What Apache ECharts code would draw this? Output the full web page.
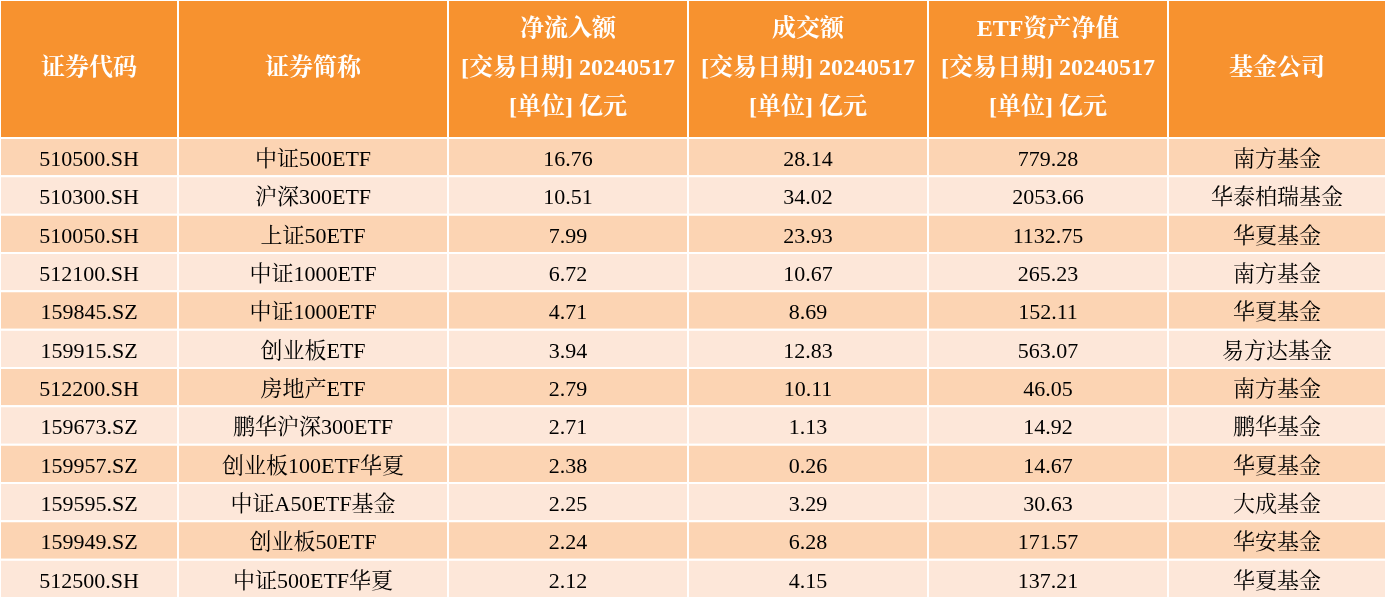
<!DOCTYPE html><html><head><meta charset="utf-8">
<script src="https://cdn.jsdelivr.net/npm/echarts@6/dist/echarts.min.js"></script>
<style>html,body{margin:0;padding:0;background:#fff}#c{width:1386px;height:598px}</style></head><body><div id="c"></div>
<script>
const headers=["证券代码","证券简称","净流入额\n[交易日期] 20240517\n[单位] 亿元","成交额\n[交易日期] 20240517\n[单位] 亿元","ETF资产净值\n[交易日期] 20240517\n[单位] 亿元","基金公司"];
const codes=["510500.SH","510300.SH","510050.SH","512100.SH","159845.SZ","159915.SZ","512200.SH","159673.SZ","159957.SZ","159595.SZ","159949.SZ","512500.SH"];
const names=["中证500ETF","沪深300ETF","上证50ETF","中证1000ETF","中证1000ETF","创业板ETF","房地产ETF","鹏华沪深300ETF","创业板100ETF华夏","中证A50ETF基金","创业板50ETF","中证500ETF华夏"];
const netInflow=[16.76,10.51,7.99,6.72,4.71,3.94,2.79,2.71,2.38,2.25,2.24,2.12];
const turnover=[28.14,34.02,23.93,10.67,8.69,12.83,10.11,1.13,0.26,3.29,6.28,4.15];
const nav=[779.28,2053.66,1132.75,265.23,152.11,563.07,46.05,14.92,14.67,30.63,171.57,137.21];
const companies=["南方基金","华泰柏瑞基金","华夏基金","南方基金","华夏基金","易方达基金","南方基金","鹏华基金","华夏基金","大成基金","华安基金","华夏基金"];
const colEdges=[0,178,448,688,928,1168,1386];
const headerH=138, rowH=(598-138)/12;
const cells=[];
headers.forEach((h,c)=>cells.push([c,-1,h]));
codes.forEach((_,r)=>{
  const vals=[codes[r],names[r],netInflow[r].toFixed(2),turnover[r].toFixed(2),nav[r].toFixed(2),companies[r]];
  vals.forEach((v,c)=>cells.push([c,r,v]));
});
const font='"Liberation Serif","Noto Serif CJK SC","Noto Sans CJK SC",serif';
const chart=echarts.init(document.getElementById('c'));
chart.setOption({
  animation:false,
  grid:{left:0,right:0,top:0,bottom:0},
  xAxis:{type:'value',min:0,max:1386,show:false},
  yAxis:{type:'value',min:0,max:598,inverse:true,show:false},
  series:[{type:'custom',data:cells,renderItem:(p,api)=>{
    const c=api.value(0), r=api.value(1), txt=cells[p.dataIndex][2];
    const y0=r<0?0:headerH+r*rowH, y1=r<0?headerH:headerH+(r+1)*rowH;
    const a=api.coord([colEdges[c],y0]), b=api.coord([colEdges[c+1],y1]);
    const fill=r<0?'#F7922F':(r%2===0?'#FCD4B3':'#FDE7D9');
    return {type:'group',children:[
      {type:'rect',shape:{x:a[0],y:a[1],width:b[0]-a[0],height:b[1]-a[1]},style:{fill:fill,stroke:'#fff',lineWidth:2}},
      {type:'text',style:{x:(a[0]+b[0])/2,y:(a[1]+b[1])/2+(r<0?0:3),text:txt,align:'center',verticalAlign:'middle',
        fill:r<0?'#fff':'#000',font:(r<0?'bold 24px ':'22px ')+font,lineHeight:r<0?39:24}}
    ]};
  }}]
});
</script></body></html>
